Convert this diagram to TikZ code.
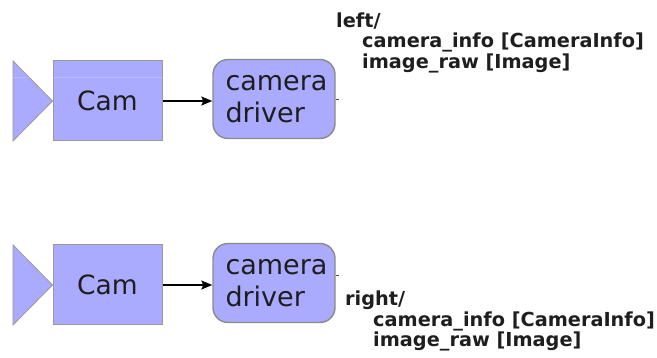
\documentclass[tikz,border=0pt]{standalone}
\usepackage{fontspec}
\setmainfont{DejaVu Sans}
\newfontfamily\labelfont{DejaVu Sans Bold}
\usetikzlibrary{arrows.meta}
\definecolor{boxfill}{HTML}{AAAAFF}
\definecolor{boxedge}{HTML}{999999}
\definecolor{drvedge}{HTML}{8A8A8A}
\definecolor{txt}{HTML}{1E1E1E}
\tikzset{
  cambox/.style={draw=boxedge, line width=1pt, fill=boxfill, minimum width=109pt,
    minimum height=80pt, inner sep=0pt, text=txt, font=\fontsize{26.5}{32}\selectfont},
  drvbox/.style={draw=drvedge, line width=1.4pt, fill=boxfill, rounded corners=15pt,
    minimum width=122pt, minimum height=79pt, inner ysep=0pt, inner xsep=12.5pt,
    text width=97pt, text=txt, align=left, font=\fontsize{27}{32}\selectfont},
  feed/.style={-{Stealth[length=11pt,width=9pt,inset=2pt]}, line width=1.4pt, black},
  tick/.style={line width=0.8pt, black!70},
  topiclist/.style={anchor=north west, inner sep=0pt, align=left, text=txt,
    font=\labelfont\fontsize{19.3}{20.5}\selectfont},
}
\begin{document}
\begin{tikzpicture}[x=1pt,y=1pt]
\useasboundingbox (0,0) rectangle (657,-358);
% left camera chain
\node[cambox] (camL) at (107.5,-101) {Cam};
\fill[boxfill] (13,-61) -- (camL.west) -- (13,-141) -- cycle;
\draw[boxedge, line width=0.8pt] (13,-61) -- (camL.west) -- (13,-141) -- cycle;
\draw[white, opacity=0.18, line width=1pt] (13,-78) -- (camL.east |- 0,-78);
\node[drvbox] (drvL) at (274,-99) {camera\\driver};
\draw[feed] (camL.east) -- (camL.east -| drvL.west);
\coordinate (tickL) at ([xshift=3pt]drvL.east);
\draw[tick] (drvL.east) -- (tickL);
\node[topiclist] (topL) at (336,-12.5) {left/\\\hspace*{26pt}camera\_info [CameraInfo]\\\hspace*{26pt}image\_raw [Image]};
% right camera chain
\node[cambox] (camR) at (107.5,-285) {Cam};
\fill[boxfill] (13,-245) -- (camR.west) -- (13,-325) -- cycle;
\draw[boxedge, line width=0.8pt] (13,-245) -- (camR.west) -- (13,-325) -- cycle;
\node[drvbox] (drvR) at (274,-283) {camera\\driver};
\draw[feed] (camR.east) -- (camR.east -| drvR.west);
\coordinate (tickR) at ([xshift=3pt,yshift=8pt]drvR.east);
\draw[tick] ([yshift=8pt]drvR.east) -- (tickR);
\node[topiclist] (topR) at (345,-291) {right/\\\hspace*{28pt}camera\_info [CameraInfo]\\\hspace*{28pt}image\_raw [Image]};
\end{tikzpicture}
\end{document}
